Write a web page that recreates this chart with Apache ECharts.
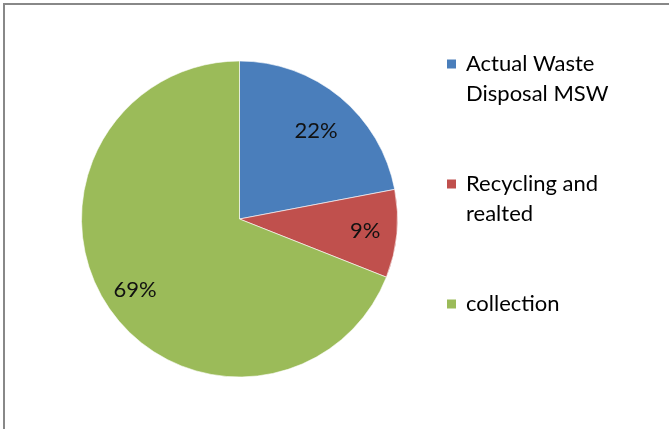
<!DOCTYPE html>
<html>
<head>
<meta charset="utf-8">
<script src="https://cdn.jsdelivr.net/npm/echarts@6/dist/echarts.min.js"></script>
<style>
  html, body { margin: 0; padding: 0; background: #ffffff; }
  #chart { width: 669px; height: 429px; }
</style>
</head>
<body>
<div id="chart"></div>
<script>
// Share of municipal solid waste spending
const categories = ['Actual Waste Disposal MSW', 'Recycling and realted', 'collection'];
const shares = [22, 9, 69];
// Legend wording, broken over lines as in the key
const legendLines = [['Actual Waste', 'Disposal MSW'], ['Recycling and', 'realted'], ['collection']];
const sliceColors = ['#4A7EBB', '#C0504D', '#9BBB59'];

const pieData = categories.map((name, i) => ({ name: name, value: shares[i] }));
const FONT = 'Lato, "Liberation Sans", sans-serif';
const center = [239.5, 219];
const R = 158;

const chart = echarts.init(document.getElementById('chart'), null, { renderer: 'canvas' });
chart.setOption({
  animation: false,
  color: sliceColors,
  graphic: [{
    type: 'rect',
    shape: { x: 4, y: 4, width: 700, height: 480 },
    style: { fill: 'none', stroke: '#888888', lineWidth: 2 },
    silent: true,
    z: -1
  }],
  legend: {
    orient: 'vertical',
    left: 445,
    top: 19,
    padding: 0,
    itemGap: 30,
    itemWidth: 11,
    itemHeight: 11,
    icon: 'rect',
    selectedMode: false,
    data: categories,
    formatter: function (name) {
      const lines = legendLines[categories.indexOf(name)].slice();
      // keep the first line level with the marker
      lines.unshift('');
      while (lines.length < 3) lines.push('');
      return lines.join('\n');
    },
    textStyle: {
      fontFamily: FONT,
      fontSize: 22,
      lineHeight: 30,
      color: '#000000',
      padding: [0, 0, 0, 4]
    }
  },
  series: [
    {
      name: 'share',
      type: 'pie',
      center: center,
      radius: R,
      startAngle: 90,
      clockwise: true,
      data: pieData,
      label: { show: false },
      labelLine: { show: false },
      itemStyle: { borderColor: '#ffffff', borderWidth: 0.6 },
      emphasis: { disabled: true },
      silent: true
    },
    {
      // transparent ring carrying the percentage labels
      name: 'labels',
      type: 'pie',
      center: center,
      radius: [R * 0.56, R],
      startAngle: 90,
      clockwise: true,
      data: pieData,
      itemStyle: { color: 'rgba(0,0,0,0)' },
      label: {
        show: true,
        position: 'inside',
        formatter: '{c}%',
        fontFamily: FONT,
        fontSize: 22,
        color: '#111111'
      },
      // pull the first label a little towards the centre
      labelLayout: function (params) {
        if (params.dataIndex === 0) return { dx: -4, dy: 9 };
        return {};
      },
      labelLine: { show: false },
      emphasis: { disabled: true },
      silent: true
    }
  ]
});
</script>
</body>
</html>
